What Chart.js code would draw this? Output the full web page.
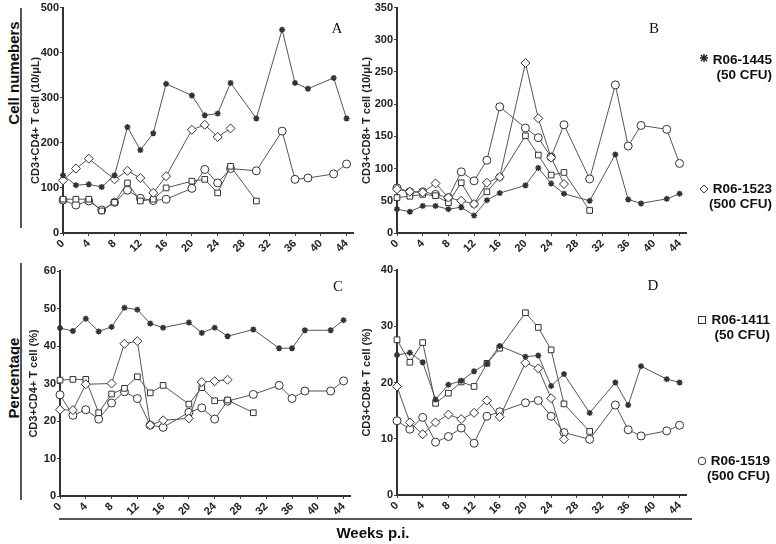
<!DOCTYPE html>
<html>
<head>
<meta charset="utf-8">
<script src="https://cdn.jsdelivr.net/npm/chart.js@4"></script>
<style>
  body { margin: 0; background: #fff; }
  #wrap { position: relative; width: 776px; height: 544px; overflow: hidden; font-family: "Liberation Sans", Arial, sans-serif; color: #111; }
  canvas { position: absolute; }
  .rot { position: absolute; transform: translate(-50%, -50%) rotate(-90deg); font-weight: bold; font-size: 15px; white-space: nowrap; }
  .bar { position: absolute; background: #555; }
  .letter { position: absolute; font-family: "Liberation Serif", "Times New Roman", serif; font-size: 15px; transform: translate(-50%, -50%); }
  .leg { position: absolute; right: 4px; text-align: right; font-weight: bold; font-size: 13.5px; line-height: 15px; }
  .mk { position: absolute; }
  .xt { position: absolute; font-weight: bold; font-size: 15px; transform: translate(-50%, -50%); }
</style>
</head>
<body>
<div id="wrap">
  <canvas id="cA" width="365" height="262" style="left:25px;top:0px"></canvas>
  <canvas id="cB" width="345" height="262" style="left:355px;top:0px"></canvas>
  <canvas id="cC" width="365" height="263" style="left:25px;top:262px"></canvas>
  <canvas id="cD" width="345" height="263" style="left:355px;top:262px"></canvas>

  <div class="rot" style="left:13px;top:73px">Cell numebers</div>
  <div class="rot" style="left:13px;top:378px">Percentage</div>
  <div class="bar" style="left:20px;top:8px;width:2px;height:220px"></div>
  <div class="bar" style="left:20px;top:263px;width:2px;height:237px"></div>
  <div class="bar" style="left:59px;top:518px;width:633px;height:2px"></div>
  <div class="xt" style="left:373px;top:532px">Weeks p.i.</div>

  <div class="letter" style="left:337px;top:28px">A</div>
  <div class="letter" style="left:654px;top:28px">B</div>
  <div class="letter" style="left:338px;top:286px">C</div>
  <div class="letter" style="left:653px;top:285px">D</div>

  <svg class="mk" style="left:699px;top:53px" width="10" height="10"><g stroke="#222" stroke-width="1.5"><line x1="5" y1="1" x2="5" y2="9"/><line x1="1" y1="5" x2="9" y2="5"/><line x1="2" y1="2" x2="8" y2="8"/><line x1="8" y1="2" x2="2" y2="8"/></g></svg>
  <div class="leg" style="top:52px">R06-1445<br>(50 CFU)</div>
  <svg class="mk" style="left:699px;top:184px" width="10" height="10"><polygon points="5,1 9,5 5,9 1,5" fill="#fff" stroke="#333"/></svg>
  <div class="leg" style="top:181px">R06-1523<br>(500 CFU)</div>
  <svg class="mk" style="left:697px;top:315px" width="10" height="10"><rect x="1.5" y="1.5" width="7" height="7" fill="#fff" stroke="#333"/></svg>
  <div class="leg" style="top:312px;right:6px">R06-1411<br>(50 CFU)</div>
  <svg class="mk" style="left:697px;top:456px" width="10" height="10"><circle cx="5" cy="5" r="3.8" fill="#fff" stroke="#333"/></svg>
  <div class="leg" style="top:453px;right:6px">R06-1519<br>(500 CFU)</div>
</div>
<script>
// sampling weeks (p.i.)
const weeks = [0, 2, 4, 6, 8, 10, 12, 14, 16, 20, 22, 24, 26, 30, 34, 36, 38, 42, 44];
const weekTicks = [0, 4, 8, 12, 16, 20, 24, 28, 32, 36, 40, 44];

// A: CD3+CD4+ T cell (10/uL)
const a1445 = [128, 106, 108, 102, 128, 235, 184, 221, 331, 305, 261, 265, 333, 254, 451, 333, 320, 344, 254];
const a1523 = [117, 143, 165, null, 119, 138, 122, 89, 126, 229, 240, 213, 232, null, null, null, null, null, null];
const a1411 = [75, 75, 75, 49, 68, 111, 71, 75, 100, 115, 119, 89, 148, 71, null, null, null, null, null];
const a1519 = [73, 62, 71, 51, 68, 95, 77, 72, 75, 99, 141, 111, 143, 138, 226, 119, 122, 131, 153];

// B: CD3+CD8+ T cell (10/uL)
const b1445 = [37, 33, 42, 42, 37, 40, 27, 51, 62, 74, 101, 77, 61, 50, 122, 52, 46, 53, 61];
const b1523 = [68, 64, 63, 77, 55, 50, 45, 78, 87, 264, 178, 117, 76, null, null, null, null, null, null];
const b1411 = [55, 57, 60, 58, 47, 78, 45, 64, 87, 151, 121, 90, 94, 35, null, null, null, null, null];
const b1519 = [70, 64, 64, 60, 55, 95, 81, 113, 196, 163, 148, 118, 168, 84, 230, 135, 167, 161, 108];

// C: CD3+CD4+ T cell (%)
const c1445 = [44.8, 44, 47.3, 43.9, 45.1, 50.2, 49.7, 46, 44.9, 46.3, 43.5, 44.9, 42.6, 44.4, 39.4, 39.4, 44.2, 44.2, 46.9];
const c1523 = [23, 22.9, 29.8, null, 30, 40.6, 41.3, 18.9, 20.2, 20.7, 30.4, 30.6, 31, null, null, null, null, null, null];
const c1411 = [30.9, 31.1, 31.1, 22.2, 27.2, 28.7, 31.8, 27.5, 29.5, 24.5, 28.9, 25.4, 25.6, 22.2, null, null, null, null, null];
const c1519 = [27, 21.5, 23, 20.5, 24.8, 27.8, 26, 18.9, 18.3, 22.3, 23.5, 20.5, 25.3, 27.1, 29.5, 26, 28, 28, 30.7];

// D: CD3+CD8+ T cell (%)
const d1445 = [24.9, 25.3, 23.6, 17, 19.6, 20.3, 22, 23.4, 26.5, 24.6, 24.8, 19.4, 21.5, 14.6, 20, 16, 22.9, 20.6, 20];
const d1523 = [19.3, 12.9, 10.8, 12.9, 14.3, 13.5, 14.6, 16.8, 13.9, 23.5, 22.5, 17.2, 9.9, null, null, null, null, null, null];
const d1411 = [27.6, 23.6, 27.1, 16.3, 18.1, 20.1, 19.3, 23.4, 26.1, 32.4, 29.8, 25.8, 16.2, 11.3, null, null, null, null, null];
const d1519 = [13.2, 11.7, 13.8, 9.4, 10.4, 11.9, 9.2, 14, 14.8, 16.4, 16.8, 14, 11.1, 9.9, 16, 11.6, 10.5, 11.4, 12.4];

Chart.defaults.font.family = "'Liberation Sans', Arial, sans-serif";
Chart.defaults.color = "#222";

const marks = [
  { pointStyle: "star", radius: 3, bw: 1.5 },
  { pointStyle: "rectRot", radius: 4.5, bw: 1 },
  { pointStyle: "rect", radius: 4, bw: 1 },
  { pointStyle: "circle", radius: 4, bw: 1 },
];

function pts(vals) {
  return weeks.map((w, i) => ({ x: w, y: vals[i] })).filter(p => p.y !== null);
}

function panel(id, series, yMax, yStep, title, box) {
  const datasets = series.map((vals, i) => ({
    data: pts(vals),
    borderColor: "#555",
    borderWidth: 1,
    pointStyle: marks[i].pointStyle,
    pointRadius: marks[i].radius,
    pointBorderWidth: marks[i].bw,
    pointBorderColor: "#333",
    pointBackgroundColor: "#fff",
    clip: false,
  }));
  new Chart(document.getElementById(id), {
    type: "line",
    data: { datasets },
    options: {
      responsive: false,
      animation: false,
      devicePixelRatio: 1,
      layout: { padding: { left: 0, right: box.right, top: box.top, bottom: 0 } },
      plugins: { legend: { display: false }, tooltip: { enabled: false } },
      scales: {
        x: {
          type: "linear",
          min: 0,
          max: 45,
          afterBuildTicks: s => { s.ticks = weekTicks.map(v => ({ value: v })); },
          afterFit: s => { s.height = box.xh; },
          grid: { drawOnChartArea: false, tickLength: 3, color: "#444" },
          border: { color: "#333", width: 2 },
          ticks: { autoSkip: false, minRotation: 45, maxRotation: 45, padding: 1, font: { size: 11, weight: "bold" } },
        },
        y: {
          min: 0,
          max: yMax,
          afterFit: s => { s.width = box.yw; },
          grid: { drawOnChartArea: false, tickLength: 3, color: "#444" },
          border: { color: "#333", width: 2 },
          ticks: { stepSize: yStep, padding: 1, font: { size: 11, weight: "bold" } },
          title: { display: true, text: title, padding: { top: box.tp, bottom: 0 }, font: { size: 11, weight: "bold" } },
        },
      },
    },
  });
}

panel("cA", [a1445, a1523, a1411, a1519], 500, 100, "CD3+CD4+ T cell (10/\u03bcL)", { right: 37, top: 7, xh: 29, yw: 38, tp: 4 });
panel("cB", [b1445, b1523, b1411, b1519], 350, 50, "CD3+CD8+ T cell (10/\u03bcL)", { right: 14, top: 7, xh: 29, yw: 42, tp: 5 });
panel("cC", [c1445, c1523, c1411, c1519], 60, 10, "CD3+CD4+ T cell (%)", { right: 40, top: 9, xh: 29, yw: 35, tp: 2 });
panel("cD", [d1445, d1523, d1411, d1519], 40, 10, "CD3+CD8+ T cell (%)", { right: 14, top: 8, xh: 30, yw: 42, tp: 5 });
</script>
</body>
</html>
